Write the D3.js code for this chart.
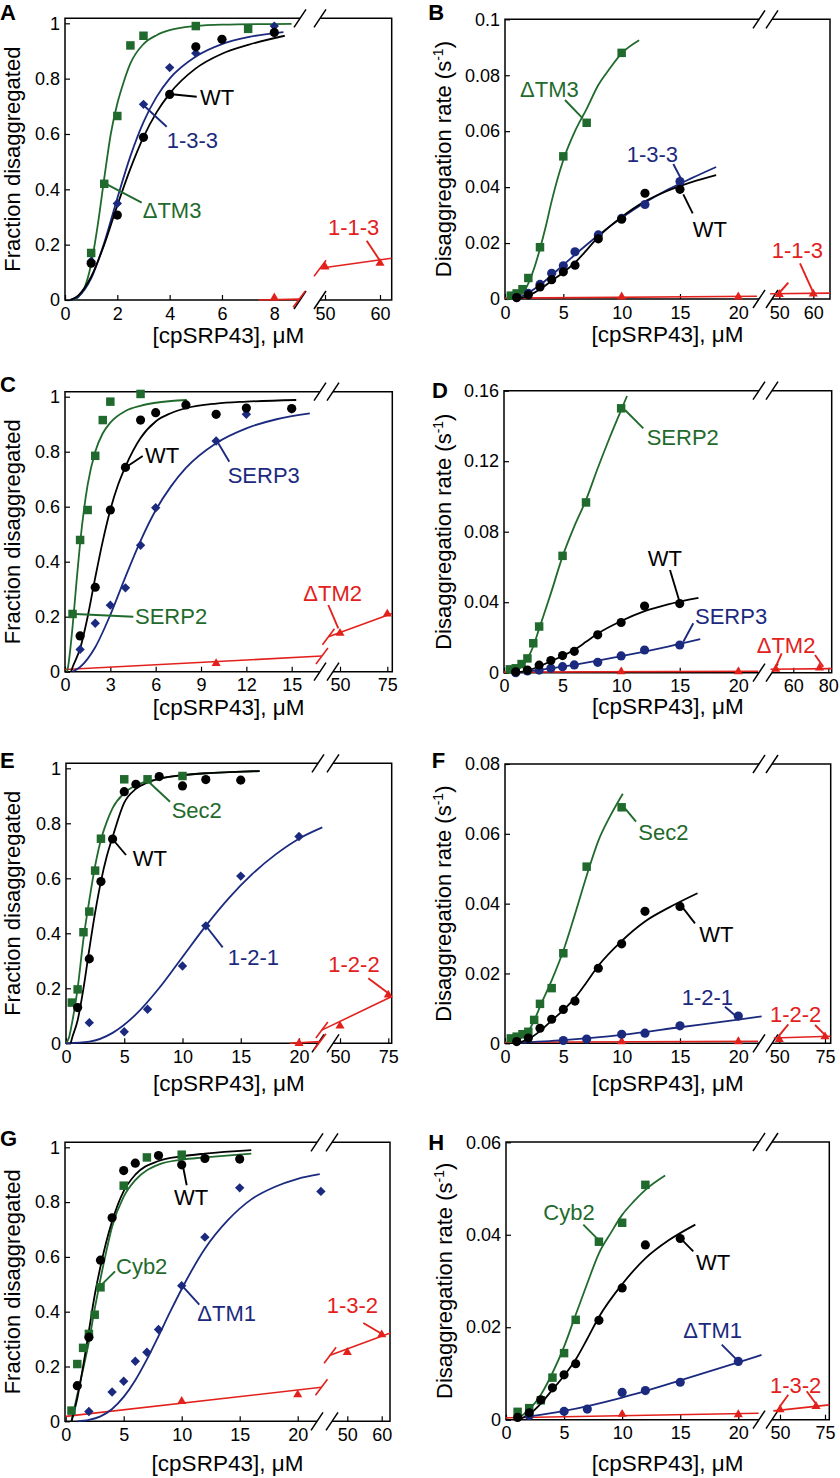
<!DOCTYPE html>
<html><head><meta charset="utf-8">
<script src="https://cdn.jsdelivr.net/npm/d3@7"></script>
<style>body{margin:0;background:#fff}svg{display:block}</style>
</head><body><svg id="c" width="840" height="1478"></svg>
<script>
// ---------- tick labels ----------
const tickFrac = [0,0.2,0.4,0.6,0.8,1];
const A_xTicks = [0,2,4,6,8];
const C_xTicks = [0,3,6,9,12,15];
const xTicks20 = [0,5,10,15,20];
const xTicks60 = [50,60];
const xTicks75 = [50,75];
const D_xTicksR = [60,80];
const B_yTicks = [0,0.02,0.04,0.06,0.08,0.1];
const D_yTicks = [0,0.04,0.08,0.12,0.16];
const F_yTicks = [0,0.02,0.04,0.06,0.08];
const H_yTicks = [0,0.02,0.04,0.06];

// ---------- shared WT data ----------
const wtFrac = [[1,0.13],[2,0.307],[3,0.588],[4,0.743],[5,0.915],[6,0.942],[8,0.97],[10,0.936],[12,0.959],[15,0.957]];
const wtRate = [[1,0.0005],[2,0.0015],[3,0.0043],[4,0.0069],[5,0.0097],[6,0.0121],[8,0.0215],[10,0.0285],[12,0.0378],[15,0.0392]];

// ---------- Panel A ----------
const A_WT = [[1,0.133],[2,0.307],[3,0.588],[4,0.743],[5,0.915],[6,0.942],[8,0.967]];
const A_WT_fit = [[0.2,0],[0.5,0.016],[1,0.084],[1.5,0.2],[2,0.342],[2.5,0.475],[3,0.589],[3.5,0.678],[4,0.746],[5,0.837],[6,0.89],[7,0.922],[8.4,0.955]];
const A_133 = [[1,0.14],[2,0.349],[3,0.707],[4,0.84],[5,0.892],[6,0.942],[8,0.99]];
const A_133_fit = [[0.2,0],[0.5,0.012],[1,0.078],[1.5,0.207],[2,0.368],[2.5,0.52],[3,0.643],[3.5,0.734],[4,0.8],[5,0.88],[6,0.925],[7,0.95],[8.35,0.968]];
const A_dTM3 = [[1,0.17],[1.5,0.42],[2,0.665],[2.5,0.92],[3,0.955],[5,0.99],[7,0.98]];
const A_dTM3_fit = [[0.3,0],[0.5,0.01],[0.75,0.045],[1,0.13],[1.25,0.27],[1.5,0.44],[1.75,0.6],[2,0.71],[2.25,0.79],[2.5,0.855],[3,0.925],[3.5,0.957],[4,0.975],[5,0.99],[6,0.995],[8.66,0.998]];
const A_113 = [[8,0.008],[50,0.12],[60,0.133]];
const A_113_fitL = [[7.4,0],[8.95,0.003]];
const A_113_fitR = [[49.1,0.115],[62.1,0.151]];

// ---------- Panel B ----------
const B_dTM3 = [[0.5,0.0012],[1,0.002],[1.5,0.0035],[2,0.0075],[3,0.0185],[5,0.051],[7,0.063],[10,0.088]];
const B_dTM3_fit = [[0.8,0],[1,0.0006],[1.5,0.002],[2,0.0056],[2.5,0.011],[3,0.018],[3.5,0.026],[4,0.035],[5,0.0497],[6,0.06],[7,0.068],[8,0.0765],[9,0.0825],[10,0.0878],[11.5,0.0925]];
const B_WT_fit = [[1,0],[2,0.0012],[3,0.0035],[4,0.0065],[5,0.0095],[6,0.013],[7,0.0175],[8,0.0222],[10,0.0293],[12,0.0349],[14,0.0388],[16,0.0418],[18.1,0.0443]];
const B_133 = [[1,0.0005],[2,0.002],[3,0.0052],[4,0.0092],[5,0.0119],[6,0.0169],[8,0.0229],[10,0.0288],[12,0.0338],[15,0.042]];
const B_133_fit = [[1,0],[2,0.0022],[3,0.005],[4,0.0085],[5,0.0122],[6,0.0158],[7,0.0194],[8,0.0228],[10,0.029],[12,0.0345],[14,0.0392],[16,0.0432],[18.1,0.0472]];
const B_113 = [[10,0.0008],[20,0.0008],[50,0.0017],[60,0.0018]];
const B_113_fitL = [[0,0.0003],[21.6,0.001]];
const B_113_fitR = [[47.3,0.0019],[64.9,0.0021]];

// ---------- Panel C ----------
const C_SERP2 = [[0.5,0.21],[1,0.479],[1.5,0.588],[2,0.785],[2.5,0.915],[3,0.982],[5,1.01]];
const C_SERP2_fit = [[0.15,0],[0.25,0.035],[0.5,0.163],[0.75,0.32],[1,0.468],[1.5,0.68],[2,0.8],[2.5,0.867],[3,0.906],[4,0.948],[5,0.967],[6,0.978],[8.06,0.988]];
const C_WT_fit = [[0.4,0],[0.5,0.016],[1,0.084],[1.5,0.2],[2,0.342],[2.5,0.475],[3,0.589],[3.5,0.678],[4,0.746],[5,0.85],[6,0.91],[7,0.94],[8,0.958],[10,0.975],[12,0.982],[15.3,0.988]];
const C_SERP3 = [[1,0.081],[2,0.176],[3,0.242],[4,0.305],[5,0.46],[6,0.596],[10,0.839],[12,0.936],[15,0.955]];
const C_SERP3_fit = [[0.5,0],[1,0.017],[2,0.089],[3,0.207],[4,0.345],[5,0.476],[6,0.587],[7,0.673],[8,0.741],[10,0.831],[12,0.885],[14,0.918],[16.2,0.939]];
const C_dTM2 = [[10,0.03],[50,0.14],[75,0.21]];
const C_dTM2_fitL = [[0,0.008],[17,0.057]];
const C_dTM2_fitR = [[43.9,0.127],[77.5,0.212]];

// ---------- Panel D ----------
const D_SERP2 = [[0.5,0.0019],[1,0.0025],[1.5,0.0049],[2,0.0081],[2.5,0.0167],[3,0.0262],[5,0.0663],[7,0.0966],[10,0.15]];
const D_SERP2_fit = [[0.7,0],[1,0.001],[1.5,0.0035],[2,0.008],[2.5,0.015],[3,0.025],[4,0.045],[5,0.066],[6,0.083],[7,0.098],[8,0.116],[9,0.133],[10,0.149],[10.5,0.157]];
const D_WT_fit = [[1,0],[2,0.0012],[3,0.0035],[4,0.0065],[5,0.0095],[6,0.013],[7,0.0175],[8,0.0222],[10,0.0293],[12,0.0349],[14,0.0388],[16.6,0.0425]];
const D_SERP3 = [[1,0],[2,0.001],[3,0.0015],[4,0.0025],[5,0.0034],[6,0.0044],[8,0.0059],[10,0.0095],[12,0.0129],[15,0.0157]];
const D_SERP3_fit = [[1,0],[2,0.0008],[4,0.0025],[6,0.0045],[8,0.0068],[10,0.0094],[12,0.012],[14,0.0148],[16.75,0.019]];
const D_dTM2 = [[10,0.0006],[20,0.0006],[50,0.002],[75,0.0028]];
const D_dTM2_fitL = [[0,0.0003],[21.7,0.0008]];
const D_dTM2_fitR = [[47,0.002],[82,0.0023]];

// ---------- Panel E ----------
const E_Sec2 = [[0.5,0.148],[1,0.196],[1.5,0.404],[2,0.479],[2.5,0.628],[3,0.744],[5,0.96],[7,0.96],[10,0.972]];
const E_Sec2_fit = [[0,0],[0.25,0.02],[0.5,0.07],[1,0.2],[1.5,0.38],[2,0.52],[2.5,0.645],[3,0.74],[3.5,0.805],[4,0.855],[5,0.91],[6,0.938],[8,0.962],[10,0.975],[12,0.982],[14,0.986],[16.65,0.99]];
const E_WT_fit = [[0.4,0],[0.5,0.016],[1,0.084],[1.5,0.2],[2,0.342],[2.5,0.475],[3,0.589],[3.5,0.68],[4,0.75],[5,0.875],[6,0.925],[7,0.948],[8,0.962],[10,0.975],[12,0.982],[14,0.986],[16.6,0.99]];
const E_121 = [[2,0.075],[5,0.042],[7,0.124],[10,0.281],[12,0.427],[15,0.608],[20,0.752]];
const E_121_fit = [[0,0],[2,0.006],[4,0.038],[6,0.105],[8,0.201],[10,0.314],[12,0.427],[14,0.529],[16,0.616],[18,0.687],[20,0.744],[22,0.785]];
const E_122 = [[20,0],[50,0.063],[75,0.176]];
const E_122_fitL = [[19.2,0],[21.8,0.006]];
const E_122_fitR = [[40.6,0.048],[76.8,0.17]];

// ---------- Panel F ----------
const F_Sec2 = [[0.5,0.0014],[1,0.0019],[1.5,0.0026],[2,0.0033],[2.5,0.0067],[3,0.0113],[4,0.0158],[5,0.0258],[7,0.0506],[10,0.0676]];
const F_Sec2_fit = [[0.7,0],[1,0.0008],[1.5,0.0018],[2,0.0035],[2.5,0.0065],[3,0.0105],[4,0.018],[5,0.0265],[6,0.037],[7,0.048],[8,0.058],[9,0.065],[10.1,0.0715]];
const F_WT_fit = [[1,0],[2,0.0012],[3,0.0035],[4,0.0065],[5,0.0095],[6,0.013],[7,0.0175],[8,0.0222],[10,0.0293],[12,0.0349],[14,0.0388],[16.5,0.043]];
const F_121 = [[5,0.0008],[7,0.0012],[10,0.0026],[12,0.0029],[15,0.005],[20,0.0078]];
const F_121_fit = [[1,0.0001],[5,0.0009],[10,0.0024],[15,0.0046],[20,0.0068],[22,0.0077]];
const F_122 = [[10,0.0005],[20,0.0005],[50,0.0011],[75,0.0019]];
const F_122_fitL = [[0,0.0003],[21.7,0.0006]];
const F_122_fitR = [[47,0.0015],[78,0.002]];

// ---------- Panel G ----------
const G_Cyb2 = [[0.5,0.039],[1,0.209],[1.5,0.268],[2,0.319],[2.5,0.389],[3,0.489],[5,0.86],[7,0.963],[10,0.973]];
const G_Cyb2_fit = [[0.5,0],[1,0.097],[1.5,0.19],[2,0.29],[2.5,0.41],[3,0.52],[3.5,0.62],[4,0.71],[5,0.82],[6,0.88],[8,0.937],[10,0.955],[12,0.963],[16,0.977]];
const G_WT_fit = [[0.5,0],[1,0.084],[1.5,0.2],[2,0.33],[2.5,0.46],[3,0.565],[3.5,0.655],[4,0.73],[5,0.84],[6,0.9],[8,0.95],[10,0.967],[12,0.977],[16,0.99]];
const G_dTM1 = [[2,0.036],[4,0.107],[5,0.146],[6,0.219],[7,0.252],[8,0.335],[10,0.495],[12,0.672],[15,0.852],[22,0.839]];
const G_dTM1_fit = [[1,0],[2,0.005],[3,0.018],[4,0.045],[5,0.089],[6,0.15],[7,0.226],[8,0.311],[9,0.399],[10,0.483],[12,0.63],[14,0.735],[16,0.81],[18,0.855],[20,0.885],[21.9,0.902]];
const G_132 = [[10,0.073],[20,0.097],[50,0.252],[60,0.316]];
const G_132_fitL = [[0,0.018],[22.05,0.124]];
const G_132_fitR = [[45,0.241],[62.5,0.322]];

// ---------- Panel H ----------
const H_Cyb2 = [[1,0.0017],[2,0.0025],[3,0.0042],[4,0.0091],[5,0.0144],[6,0.0216],[8,0.0385],[10,0.0426],[12,0.0508]];
const H_Cyb2_fit = [[1,0.0003],[2,0.0022],[3,0.0054],[4,0.0101],[5,0.0158],[6,0.0227],[7,0.0295],[8,0.036],[9,0.0403],[10,0.0443],[11,0.0472],[12,0.0497],[13.7,0.0528]];
const H_WT_fit = [[1,0],[2,0.0012],[3,0.0035],[4,0.0065],[5,0.0095],[6,0.013],[7,0.0175],[8,0.0222],[10,0.0293],[12,0.0349],[14,0.0388],[16.3,0.0422]];
const H_dTM1 = [[2,0.0009],[5,0.0018],[7,0.0023],[10,0.0059],[12,0.0063],[15,0.0081],[20,0.0126]];
const H_dTM1_fit = [[2,0.0007],[5,0.0019],[10,0.0048],[15,0.0085],[20,0.0124],[22,0.014]];
const H_132 = [[10,0.0012],[20,0.0011],[50,0.0022],[70,0.0029]];
const H_132_fitL = [[0,0.0004],[21.75,0.0014]];
const H_132_fitR = [[46.3,0.0019],[77.4,0.0032]];

// ---------- styling / layout ----------
const COL = {g:"#1f6a2c", b:"#1b2a7e", r:"#e3211c", k:"#000000"};
const FONT = '"Liberation Sans", Arial, Helvetica, sans-serif';

const panels = [
 {letter:"A", lp:[0,20], frame:{l:65,r:391.7,t:18.3,b:300}, gap:[300,320],
  xL:[[0,8],[65,274.3]], xR:[[50,60],[325,380]], y:[[0,1],[300,23.3]],
  tL:A_xTicks, tR:xTicks60, tY:tickFrac, frac:true, ytx:20, xtOff:43,
  series:[{pts:A_dTM3,fit:A_dTM3_fit,c:"g",m:"square"},{pts:A_133,fit:A_133_fit,c:"b",m:"diamond"},{pts:A_WT,fit:A_WT_fit,c:"k",m:"circle"}],
  red:{pts:A_113,L:A_113_fitL,R:A_113_fitR,slash:true},
  labels:[{t:"WT",c:"k",x:200,y:105,ln:[[171.7,94.3,196.7,96.7]]},
   {t:"1-3-3",c:"b",x:166.7,y:148.3,ln:[[143.3,105,166.7,126.7]]},
   {t:"\u0394TM3",c:"g",x:142.7,y:218.3,ln:[[105,183.3,141.7,202.7]]},
   {t:"1-1-3",c:"r",x:328,y:235,ln:[[366.7,240.7,380,260.7]]}]},
 {letter:"B", lp:[428.3,20], frame:{l:505,r:830,t:19.3,b:299}, gap:[759,772],
  xL:[[0,20],[505,738.3]], xR:[[50,60],[779.3,813.3]], y:[[0,0.1],[299,19.3]],
  tL:xTicks20, tR:xTicks60, tY:B_yTicks, frac:false, ytx:450.5, xtOff:43,
  series:[{pts:B_dTM3,fit:B_dTM3_fit,c:"g",m:"square"},{pts:B_133,fit:B_133_fit,c:"b",m:"circle"},{pts:wtRate,fit:B_WT_fit,c:"k",m:"circle"}],
  red:{pts:B_113,L:B_113_fitL,R:B_113_fitR,slash:false},
  labels:[{t:"\u0394TM3",c:"g",x:520,y:97.3,ln:[[565,100,582.7,118.3]]},
   {t:"1-3-3",c:"b",x:626.7,y:161.7,ln:[[673.3,164,681.7,180]]},
   {t:"WT",c:"k",x:692.7,y:237.3,ln:[[692.7,213.3,683.3,194.3]]},
   {t:"1-1-3",c:"r",x:771.7,y:258.3,ln:[[800,263.3,813.3,292.7],[788.3,282.7,780,292]]}]},
 {letter:"C", lp:[0,391.7], frame:{l:65,r:392.3,t:391.7,b:671.7}, gap:[320,333],
  xL:[[0,15],[65,291.7]], xR:[[50,75],[340,387.3]], y:[[0,1],[671.7,396.7]],
  tL:C_xTicks, tR:xTicks75, tY:tickFrac, frac:true, ytx:20, xtOff:43,
  series:[{pts:C_SERP2,fit:C_SERP2_fit,c:"g",m:"square"},{pts:C_SERP3,fit:C_SERP3_fit,c:"b",m:"diamond"},{pts:wtFrac,fit:C_WT_fit,c:"k",m:"circle"}],
  red:{pts:C_dTM2,L:C_dTM2_fitL,R:C_dTM2_fitR,slash:true},
  labels:[{t:"WT",c:"k",x:145,y:463.3,ln:[[126.7,466.7,142.7,456]]},
   {t:"SERP3",c:"b",x:227.7,y:482.7,ln:[[218.3,443.3,229.3,461.7]]},
   {t:"SERP2",c:"g",x:135,y:624,ln:[[75,614,133.3,616.7]]},
   {t:"\u0394TM2",c:"r",x:303.3,y:600.7,ln:[[328.3,605,338.3,628.3]]}]},
 {letter:"D", lp:[432,398], frame:{l:504,r:831.7,t:390.7,b:672.7}, gap:[759,772],
  xL:[[0,20],[504,738.3]], xR:[[60,80],[793.3,828.3]], y:[[0,0.16],[672.7,390.7]],
  tL:xTicks20, tR:D_xTicksR, tY:D_yTicks, frac:false, ytx:450.5, xtOff:41,
  series:[{pts:D_SERP2,fit:D_SERP2_fit,c:"g",m:"square"},{pts:D_SERP3,fit:D_SERP3_fit,c:"b",m:"circle"},{pts:wtRate,fit:D_WT_fit,c:"k",m:"circle"}],
  red:{pts:D_dTM2,L:D_dTM2_fitL,R:D_dTM2_fitR,slash:false},
  labels:[{t:"SERP2",c:"g",x:646.7,y:445,ln:[[625,410,643.3,428.3]]},
   {t:"WT",c:"k",x:647.7,y:566,ln:[[670,570,680,603.3]]},
   {t:"SERP3",c:"b",x:695,y:624,ln:[[693.3,623.3,683.3,641.7]]},
   {t:"\u0394TM2",c:"r",x:756.7,y:652.7,ln:[[815,655,823.3,666.7],[781.7,653.3,775,668.3]]}]},
 {letter:"E", lp:[0,768.3], frame:{l:66,r:391.7,t:763.3,b:1043.3}, gap:[318,333],
  xL:[[0,20],[66,299]], xR:[[50,75],[340,388.3]], y:[[0,1],[1043.3,768.3]],
  tL:xTicks20, tR:xTicks75, tY:tickFrac, frac:true, ytx:20, xtOff:48,
  series:[{pts:E_Sec2,fit:E_Sec2_fit,c:"g",m:"square"},{pts:E_121,fit:E_121_fit,c:"b",m:"diamond"},{pts:wtFrac,fit:E_WT_fit,c:"k",m:"circle"}],
  red:{pts:E_122,L:E_122_fitL,R:E_122_fitR,slash:true},
  labels:[{t:"Sec2",c:"g",x:171.7,y:818.3,ln:[[146.7,780,170,801.7]]},
   {t:"WT",c:"k",x:132.7,y:866,ln:[[113.3,840,126,855]]},
   {t:"1-2-1",c:"b",x:227.7,y:965,ln:[[206,926,222.7,947.3]]},
   {t:"1-2-2",c:"r",x:328.3,y:971.7,ln:[[368.3,978.3,388.3,993.3]]}]},
 {letter:"F", lp:[431.7,768.3], frame:{l:505,r:830.7,t:764,b:1043.3}, gap:[759,772],
  xL:[[0,20],[505,738.3]], xR:[[50,75],[779.3,825]], y:[[0,0.08],[1043.3,764]],
  tL:xTicks20, tR:xTicks75, tY:F_yTicks, frac:false, ytx:451, xtOff:48,
  series:[{pts:F_Sec2,fit:F_Sec2_fit,c:"g",m:"square"},{pts:F_121,fit:F_121_fit,c:"b",m:"circle"},{pts:wtRate,fit:F_WT_fit,c:"k",m:"circle"}],
  red:{pts:F_122,L:F_122_fitL,R:F_122_fitR,slash:false},
  labels:[{t:"Sec2",c:"g",x:638.3,y:840,ln:[[625,808.3,636,821.7]]},
   {t:"WT",c:"k",x:699.3,y:941.7,ln:[[683.3,908.3,695,923.3]]},
   {t:"1-2-1",c:"b",x:681.7,y:1005,ln:[[725,1006.7,736.7,1016.7]]},
   {t:"1-2-2",c:"r",x:770,y:1021.7,ln:[[788.3,1024.3,778.3,1036.7],[815,1025,826.7,1036.7]]}]},
 {letter:"G", lp:[0,1146.3], frame:{l:65,r:390,t:1142.3,b:1421.3}, gap:[317,332],
  xL:[[0,20],[65.7,297.7]], xR:[[50,60],[347.3,381.7]], y:[[0,1],[1421.3,1147.3]],
  tL:xTicks20, tR:xTicks60, tY:tickFrac, frac:true, ytx:20, xtOff:50,
  series:[{pts:G_Cyb2,fit:G_Cyb2_fit,c:"g",m:"square"},{pts:G_dTM1,fit:G_dTM1_fit,c:"b",m:"diamond"},{pts:wtFrac,fit:G_WT_fit,c:"k",m:"circle"}],
  red:{pts:G_132,L:G_132_fitL,R:G_132_fitR,slash:true},
  labels:[{t:"WT",c:"k",x:174,y:1205.3,ln:[[182.7,1164.7,186.7,1185.3]]},
   {t:"Cyb2",c:"g",x:116,y:1273.7,ln:[[101.7,1284.7,115,1271.3]]},
   {t:"\u0394TM1",c:"b",x:197.3,y:1321.3,ln:[[182.7,1286.3,199.3,1304.7]]},
   {t:"1-3-2",c:"r",x:326.7,y:1313,ln:[[363.3,1323,383.3,1334.7]]}]},
 {letter:"H", lp:[428.3,1149.7], frame:{l:506,r:829.3,t:1142,b:1419.7}, gap:[759,772],
  xL:[[0,20],[506,738.3]], xR:[[50,75],[780,825]], y:[[0,0.06],[1419.7,1142.3]],
  tL:xTicks20, tR:xTicks75, tY:H_yTicks, frac:false, ytx:452, xtOff:51,
  series:[{pts:H_Cyb2,fit:H_Cyb2_fit,c:"g",m:"square"},{pts:H_dTM1,fit:H_dTM1_fit,c:"b",m:"circle"},{pts:wtRate,fit:H_WT_fit,c:"k",m:"circle"}],
  red:{pts:H_132,L:H_132_fitL,R:H_132_fitR,slash:false},
  labels:[{t:"Cyb2",c:"g",x:543.3,y:1219.7,ln:[[583.3,1224.7,598.3,1239.7]]},
   {t:"WT",c:"k",x:696,y:1269.7,ln:[[681.7,1239.7,693.3,1251.3]]},
   {t:"\u0394TM1",c:"b",x:683.3,y:1338,ln:[[721.7,1344.7,736.7,1359.7]]},
   {t:"1-3-2",c:"r",x:770,y:1393,ln:[[806.7,1391.3,816.7,1404.7],[788.3,1394.7,780,1406.3]]}]}
];

const svg = d3.select("#c").attr("font-family", FONT);
const SPLIT = 30;
const sym = {
  square: d3.symbol(d3.symbolSquare, 72),
  circle: d3.symbol(d3.symbolCircle, 66),
  diamond: d3.symbol(d3.symbolSquare, 44),
  triangle: d3.symbol(d3.symbolTriangle, 36)
};

panels.forEach(p => {
  const g = svg.append("g");
  const f = p.frame;
  const xL = d3.scaleLinear().domain(p.xL[0]).range(p.xL[1]);
  const xR = d3.scaleLinear().domain(p.xR[0]).range(p.xR[1]);
  const y = d3.scaleLinear().domain(p.y[0]).range(p.y[1]);
  const X = v => v <= SPLIT ? xL(v) : xR(v);

  // axes (ticks inside)
  const fmt = d => String(d);
  const styleAxis = s => { s.select(".domain").remove();
    s.attr("font-size", 18).attr("font-family", FONT);
    s.selectAll("line").attr("stroke", "#000").attr("stroke-width", 1.2);
    s.selectAll("text").attr("fill", "#000"); };
  g.append("g").attr("transform", `translate(0,${f.b})`)
    .call(d3.axisBottom(xL).tickValues(p.tL).tickSize(-5).tickPadding(7).tickFormat(fmt)).call(styleAxis);
  g.append("g").attr("transform", `translate(0,${f.b})`)
    .call(d3.axisBottom(xR).tickValues(p.tR).tickSize(-5).tickPadding(7).tickFormat(fmt)).call(styleAxis);
  g.append("g").attr("transform", `translate(${f.l},0)`)
    .call(d3.axisLeft(y).tickValues(p.tY).tickSize(-5).tickPadding(5).tickFormat(fmt)).call(styleAxis);

  // frame with break
  const [g1, g2] = p.gap;
  g.append("path").attr("fill", "none").attr("stroke", "#000").attr("stroke-width", 1.5)
    .attr("d", `M${g1},${f.t}H${f.l}V${f.b}H${g1}M${g2},${f.b}H${f.r}V${f.t}H${g2}`);
  [g1, g2].forEach(gx => [f.t, f.b].forEach(yy => {
    g.append("line").attr("x1", gx - 6).attr("y1", yy + 9).attr("x2", gx + 6).attr("y2", yy - 9)
      .attr("stroke", "#000").attr("stroke-width", 1.5);
  }));

  // fits
  const lineFit = d3.line().x(d => X(d[0])).y(d => y(d[1])).curve(d3.curveMonotoneX);
  const lineL = d3.line().x(d => xL(d[0])).y(d => y(d[1]));
  const lineR = d3.line().x(d => xR(d[0])).y(d => y(d[1]));
  const rc = COL.r;
  g.append("path").datum(p.red.L).attr("d", lineL).attr("fill", "none").attr("stroke", rc).attr("stroke-width", 1.6);
  g.append("path").datum(p.red.R).attr("d", lineR).attr("fill", "none").attr("stroke", rc).attr("stroke-width", 1.6);
  if (p.red.slash) {
    const e1 = p.red.L[p.red.L.length - 1], e2 = p.red.R[0];
    [[xL(e1[0]), y(e1[1])], [xR(e2[0]), y(e2[1])]].forEach(([cx, cy]) => {
      g.append("line").attr("x1", cx - 6).attr("y1", cy + 8).attr("x2", cx + 6).attr("y2", cy - 8)
        .attr("stroke", rc).attr("stroke-width", 1.6);
    });
  }
  p.series.forEach(s => {
    g.append("path").datum(s.fit).attr("d", lineFit).attr("fill", "none")
      .attr("stroke", COL[s.c]).attr("stroke-width", 1.8);
  });

  // markers
  g.append("g").selectAll("path").data(p.red.pts).join("path")
    .attr("d", sym.triangle).attr("fill", rc)
    .attr("transform", d => `translate(${X(d[0])},${y(d[1])})`);
  p.series.forEach(s => {
    g.append("g").selectAll("path").data(s.pts).join("path")
      .attr("d", sym[s.m]).attr("fill", COL[s.c])
      .attr("transform", d => `translate(${X(d[0])},${y(d[1])})` + (s.m === "diamond" ? " rotate(45)" : ""));
  });

  // labels with leaders
  p.labels.forEach(lb => {
    lb.ln.forEach(l => g.append("line").attr("x1", l[0]).attr("y1", l[1]).attr("x2", l[2]).attr("y2", l[3])
      .attr("stroke", COL[lb.c]).attr("stroke-width", 1.9));
    g.append("text").attr("x", lb.x).attr("y", lb.y).attr("font-size", 22).attr("fill", COL[lb.c]).text(lb.t);
  });

  // axis titles
  g.append("text").attr("x", (f.l + f.r) / 2).attr("y", f.b + p.xtOff).attr("text-anchor", "middle")
    .attr("font-size", 22.5).text("[cpSRP43], \u03bcM");
  const yt = g.append("text").attr("transform", `translate(${p.ytx},${(f.t + f.b) / 2}) rotate(-90)`)
    .attr("text-anchor", "middle").attr("font-size", 22);
  if (p.frac) yt.text("Fraction disaggregated");
  else {
    yt.append("tspan").text("Disaggregation rate (s");
    yt.append("tspan").attr("dy", -8).attr("font-size", 14).text("-1");
    yt.append("tspan").attr("dy", 8).text(")");
  }
  // panel letter
  g.append("text").attr("x", p.lp[0]).attr("y", p.lp[1]).attr("font-size", 22).attr("font-weight", "bold").text(p.letter);
});
</script>
</body></html>
